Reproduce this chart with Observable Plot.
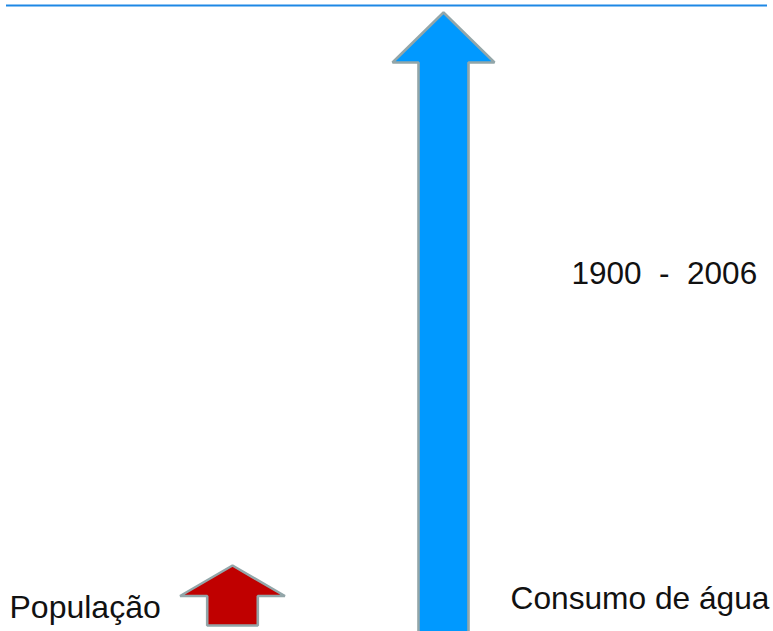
<!DOCTYPE html>
<html>
<head>
<meta charset="utf-8">
<script src="https://cdn.jsdelivr.net/npm/d3@7"></script>
<script src="https://cdn.jsdelivr.net/npm/@observablehq/plot@0.6"></script>
<style>
  html, body { margin: 0; padding: 0; background: #fff; }
  #chart svg { display: block; overflow: hidden; }
</style>
</head>
<body>
<div id="chart"></div>
<script>
// Data
const categories = ["População", "Consumo de água"];
const growth = [60, 622];          // arrow length (chart units)
const period = ["1900", "2006"];

// Layout (code-level, not data)
const W = 773, H = 631;
const centers = [232, 443];
const bases = [6, -3];
const shaftHalf = [25.3, 25];
const headHalf = [52.4, 51];
const headLen = [30.5, 50];
const fills = ["#c00000", "#0099ff"];

function arrowPath(i) {
  const cx = centers[i], b = bases[i], t = b + growth[i];
  const hb = t - headLen[i];
  return [
    {x: cx - shaftHalf[i], y: b},
    {x: cx - shaftHalf[i], y: hb},
    {x: cx - headHalf[i], y: hb},
    {x: cx, y: t},
    {x: cx + headHalf[i], y: hb},
    {x: cx + shaftHalf[i], y: hb},
    {x: cx + shaftHalf[i], y: b}
  ];
}

const labels = [
  {text: categories[0], x: 9, y: H - 617.5, size: 32},
  {text: categories[1], x: 510, y: H - 608, size: 31.7},
  {text: period[0] + "\u00a0\u00a0-\u00a0\u00a0" + period[1], x: 571, y: H - 283.3, size: 31.5}
];

const arrowMarks = categories.map((c, i) =>
  Plot.line(arrowPath(i), {
    x: "x", y: "y",
    curve: "linear-closed",
    fill: fills[i],
    stroke: "#93a6a9",
    strokeWidth: 2.6,
    strokeLinejoin: "miter"
  })
);

const plot = Plot.plot({
  width: W,
  height: H,
  margin: 0,
  x: {domain: [0, W], range: [0, W], axis: null},
  y: {domain: [0, H], range: [H, 0], axis: null},
  clip: true,
  style: {fontFamily: "'Liberation Sans', Arial, sans-serif", background: "#fff"},
  marks: [
    Plot.ruleY([H - 5], {x1: 6, x2: 767, stroke: "#1e88e5", strokeWidth: 2}),
    ...arrowMarks,
    ...labels.map(d => Plot.text([d], {
      x: "x", y: "y", text: "text",
      textAnchor: "start", lineAnchor: "bottom",
      fontSize: d.size, fill: "#111"
    }))
  ]
});
document.getElementById("chart").appendChild(plot);
</script>
</body>
</html>
